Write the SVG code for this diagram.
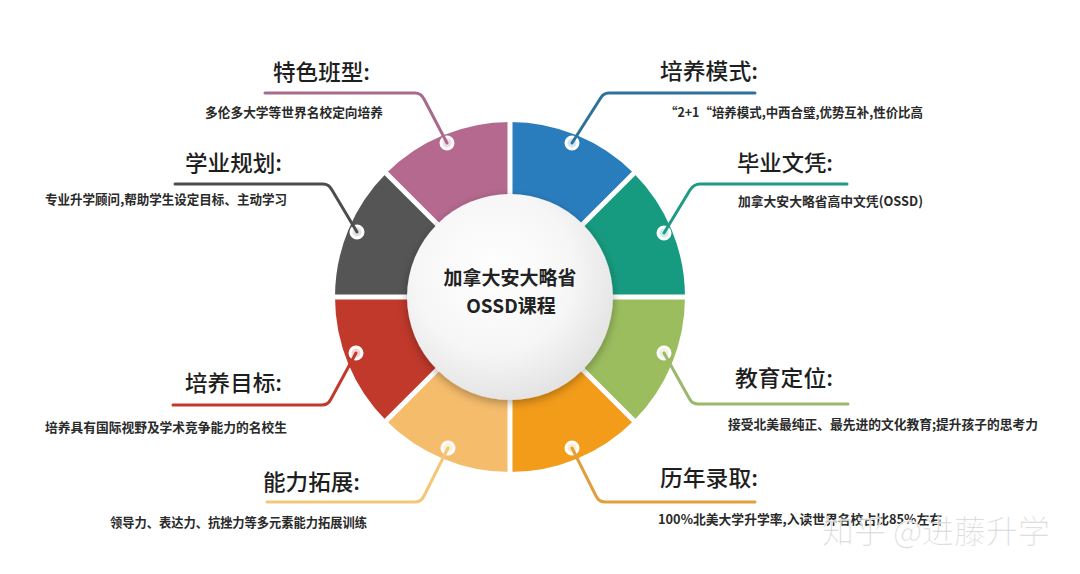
<svg xmlns="http://www.w3.org/2000/svg" width="1080" height="574" viewBox="0 0 1080 574">
<style>
.h{font-family:"Noto Sans CJK SC","Noto Sans",sans-serif;font-size:22px;fill:#1e1e1e;font-weight:500}
.d{font-family:"Noto Sans CJK SC","Noto Sans",sans-serif;font-size:13px;fill:#2a2a2a;font-weight:700}
.c{font-family:"Noto Sans CJK SC","Noto Sans",sans-serif;font-size:19px;fill:#222;font-weight:700;text-anchor:middle}
.ln{fill:none;stroke-width:3;stroke-linecap:round;stroke-linejoin:round}
.dot{stroke:#fff;stroke-width:3}
.gap{stroke:#fff;stroke-width:5}
</style>
<defs>
<radialGradient id="cg" cx="0.42" cy="0.38" r="0.65">
<stop offset="0" stop-color="#ffffff"/>
<stop offset="0.6" stop-color="#f6f6f6"/>
<stop offset="1" stop-color="#e2e2e2"/>
</radialGradient>
<filter id="sh" x="-30%" y="-30%" width="160%" height="160%">
<feDropShadow dx="0" dy="3" stdDeviation="5" flood-color="#000" flood-opacity="0.3"/>
</filter>
</defs>
<rect width="1080" height="574" fill="#ffffff"/>
<g id="ring">
<path d="M510,297 L386.26,173.26 A175,175 0 0 1 510,122 Z" fill="#b5698f"/>
<path d="M510,297 L510,122 A175,175 0 0 1 633.74,173.26 Z" fill="#2a7dbd"/>
<path d="M510,297 L633.74,173.26 A175,175 0 0 1 685,297 Z" fill="#179b80"/>
<path d="M510,297 L685,297 A175,175 0 0 1 633.74,420.74 Z" fill="#9bbd5e"/>
<path d="M510,297 L633.74,420.74 A175,175 0 0 1 510,472 Z" fill="#f39c1a"/>
<path d="M510,297 L510,472 A175,175 0 0 1 386.26,420.74 Z" fill="#f5bc6c"/>
<path d="M510,297 L386.26,420.74 A175,175 0 0 1 335,297 Z" fill="#c0392b"/>
<path d="M510,297 L335,297 A175,175 0 0 1 386.26,173.26 Z" fill="#555555"/>
<line class="gap" x1="510" y1="118" x2="510" y2="476"/>
<line class="gap" x1="331" y1="297" x2="689" y2="297"/>
<line class="gap" x1="383.4" y1="170.4" x2="636.6" y2="423.6"/>
<line class="gap" x1="636.6" y1="170.4" x2="383.4" y2="423.6"/>
</g>
<g id="center">
<circle cx="510" cy="297" r="103" fill="url(#cg)" filter="url(#sh)"/>
<text class="c" x="510" y="285">加拿大安大略省</text>
<text class="c" x="511" y="313">OSSD课程</text>
</g>
<g id="dots">
<circle class="dot" cx="447" cy="143" r="6" fill="#f3d8e6"/>
<circle class="dot" cx="572" cy="143" r="6" fill="#cfe6f6"/>
<circle class="dot" cx="664" cy="233" r="6" fill="#cdeee6"/>
<circle class="dot" cx="664" cy="353" r="6" fill="#eaf3d8"/>
<circle class="dot" cx="572" cy="448" r="6" fill="#fdeccc"/>
<circle class="dot" cx="448" cy="448" r="6" fill="#fdf0d6"/>
<circle class="dot" cx="356" cy="353" r="6" fill="#f6d3cf"/>
<circle class="dot" cx="357" cy="232" r="6" fill="#e2e2e2"/>
</g>
<g id="connectors">
<path class="ln" stroke="#a86b8b" d="M265,93 H415 Q421,93 424,99 L447,143"/>
<path class="ln" stroke="#4d4d4d" d="M175,184 H323 Q329,184 332,190 L357,232"/>
<path class="ln" stroke="#2f7198" d="M755,93 H609 Q603,93 600,99 L572,143"/>
<path class="ln" stroke="#1f9a86" d="M847,184 H700 Q694,184 690,190 L664,233"/>
<path class="ln" stroke="#9cb86d" d="M664,353 L689,398 Q692,404 698,404 H848"/>
<path class="ln" stroke="#e0a040" d="M572,448 L596,496 Q599,502 605,502 H755"/>
<path class="ln" stroke="#f2c77a" d="M448,448 L424,496 Q421,502 415,502 H267"/>
<path class="ln" stroke="#c0392b" d="M356,353 L331,399 Q328,405 322,405 H173"/>
</g>
<g id="n-tese">
<text class="h" x="273" y="80" textLength="97" lengthAdjust="spacingAndGlyphs">特色班型:</text>
<text class="d" x="205" y="117" textLength="178" lengthAdjust="spacingAndGlyphs">多伦多大学等世界名校定向培养</text>
</g>
<g id="n-xueye">
<text class="h" x="185" y="171" textLength="97" lengthAdjust="spacingAndGlyphs">学业规划:</text>
<text class="d" x="45" y="204" textLength="242" lengthAdjust="spacingAndGlyphs">专业升学顾问,帮助学生设定目标、主动学习</text>
</g>
<g id="n-peiyang">
<text class="h" x="660" y="79" textLength="98" lengthAdjust="spacingAndGlyphs">培养模式:</text>
<text class="d" x="665" y="117" textLength="258" lengthAdjust="spacingAndGlyphs">“2+1“培养模式,中西合璧,优势互补,性价比高</text>
</g>
<g id="n-biye">
<text class="h" x="737" y="171" textLength="96" lengthAdjust="spacingAndGlyphs">毕业文凭:</text>
<text class="d" x="738" y="206" textLength="185" lengthAdjust="spacingAndGlyphs">加拿大安大略省高中文凭(OSSD)</text>
</g>
<g id="n-jiaoyu">
<text class="h" x="735" y="386" textLength="98" lengthAdjust="spacingAndGlyphs">教育定位:</text>
<text class="d" x="728" y="429" textLength="310" lengthAdjust="spacingAndGlyphs">接受北美最纯正、最先进的文化教育;提升孩子的思考力</text>
</g>
<g id="n-linian">
<text class="h" x="660" y="486" textLength="98" lengthAdjust="spacingAndGlyphs">历年录取:</text>
<text class="d" x="658" y="524" textLength="284" lengthAdjust="spacingAndGlyphs">100%北美大学升学率,入读世界名校占比85%左右</text>
</g>
<g id="n-mubiao">
<text class="h" x="185" y="391" textLength="97" lengthAdjust="spacingAndGlyphs">培养目标:</text>
<text class="d" x="45" y="432" textLength="242" lengthAdjust="spacingAndGlyphs">培养具有国际视野及学术竞争能力的名校生</text>
</g>
<g id="n-nengli">
<text class="h" x="263" y="490" textLength="97" lengthAdjust="spacingAndGlyphs">能力拓展:</text>
<text class="d" x="110" y="527" textLength="257" lengthAdjust="spacingAndGlyphs">领导力、表达力、抗挫力等多元素能力拓展训练</text>
</g>
<g id="watermark">
<text x="822" y="543" textLength="228" lengthAdjust="spacingAndGlyphs" font-family="Noto Sans CJK SC, sans-serif" font-size="32" font-weight="300" fill="#c8c8c8" fill-opacity="0.85" stroke="#ffffff" stroke-width="0.6">知乎 @进藤升学</text>
</g>
</svg>
